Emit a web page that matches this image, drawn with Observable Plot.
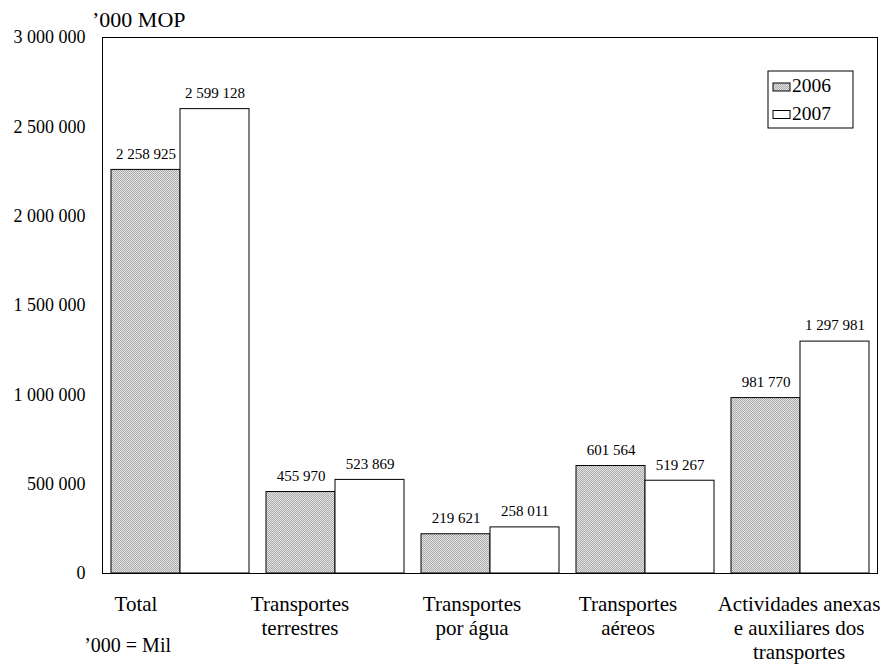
<!DOCTYPE html>
<html>
<head>
<meta charset="utf-8">
<script src="https://cdn.jsdelivr.net/npm/d3@7"></script>
<script src="https://cdn.jsdelivr.net/npm/@observablehq/plot@0.6"></script>
<style>
  body { margin: 0; background: #fff; font-family: "Liberation Serif", "Times New Roman", serif; }
  #wrap { position: relative; width: 885px; height: 664px; }
</style>
</head>
<body>
<div id="wrap"></div>
<script>
const categories = [
  "Total",
  "Transportes\nterrestres",
  "Transportes\npor água",
  "Transportes\naéreos",
  "Actividades anexas\ne auxiliares dos\ntransportes"
];
const years = ["2006", "2007"];
const values2006 = [2258925, 455970, 219621, 601564, 981770];
const values2007 = [2599128, 523869, 258011, 519267, 1297981];
const yTicks = [0, 500000, 1000000, 1500000, 2000000, 2500000, 3000000];
const unitLabel = "’000 MOP";
const footnote = "’000 = Mil";

const data = [];
categories.forEach((c, i) => {
  data.push({cat: c, year: years[0], value: values2006[i]});
  data.push({cat: c, year: years[1], value: values2007[i]});
});

const fmt = d3.formatLocale({thousands: " ", grouping: [3], decimal: ",", currency: ["", ""]}).format(",");
const fills = {"2006": "url(#dots)", "2007": "white"};
const FONT = "'Liberation Serif', 'Times New Roman', serif";
// horizontal shift of each category label (style, as in the original layout)
const labelDx = [-44, -35, -18, -17, -1];

const chart = Plot.plot({
  width: 885,
  height: 664,
  marginLeft: 100,
  marginRight: 7,
  marginTop: 37,
  marginBottom: 91,
  style: {fontFamily: FONT, color: "#000", background: "transparent"},
  fx: {domain: categories, padding: 0, label: null, axis: null},
  x: {domain: years, paddingInner: 0, paddingOuter: 0.114, axis: null},
  y: {domain: [0, 3000000], ticks: yTicks, label: null},
  marks: [
    Plot.frame({stroke: "#000", facet: "super"}),
    Plot.axisY({ticks: yTicks, tickSize: 0, tickPadding: 17, tickFormat: fmt, fontSize: 18, label: null}),
    ...years.map(yr => Plot.barY(data.filter(d => d.year === yr), {
      fx: "cat", x: "year", y: "value", fill: fills[yr], stroke: "#000", strokeWidth: 1, inset: 0
    })),
    Plot.text(data, {fx: "cat", x: "year", y: "value", text: d => fmt(d.value), dy: -16, fontSize: 15, fill: "#000"}),
    ...categories.map((c, i) => Plot.text([c], {
      fx: d => d, text: d => d, frameAnchor: "bottom", lineAnchor: "top",
      dy: 20, dx: labelDx[i], fontSize: 21, lineHeight: 1.143, fill: "#000"
    }))
  ]
});

const svg = d3.select(chart);
const defs = svg.insert("defs", ":first-child");
const pat = defs.append("pattern").attr("id", "dots").attr("patternUnits", "userSpaceOnUse")
  .attr("width", 2).attr("height", 2);
pat.append("rect").attr("width", 2).attr("height", 2).attr("fill", "#e4e4e4");
pat.append("rect").attr("width", 1).attr("height", 1).attr("fill", "#aaaaaa");
pat.append("rect").attr("x", 1).attr("y", 1).attr("width", 1).attr("height", 1).attr("fill", "#aaaaaa");

// unit label and footnote
svg.append("text").attr("x", 92).attr("y", 27).attr("text-anchor", "start")
  .attr("font-size", 22).attr("fill", "#000").text(unitLabel);
svg.append("text").attr("x", 171).attr("y", 652).attr("text-anchor", "end")
  .attr("font-size", 20).attr("fill", "#000").text(footnote);

// legend
const lg = svg.append("g").attr("text-anchor", "start");
lg.append("rect").attr("x", 768).attr("y", 71).attr("width", 85).attr("height", 57)
  .attr("fill", "white").attr("stroke", "#000");
years.forEach((yr, i) => {
  const base = 92 + i * 27.5;
  lg.append("rect").attr("x", 773).attr("y", base - 9).attr("width", 17).attr("height", 8)
    .attr("fill", fills[yr]).attr("stroke", "#000");
  lg.append("text").attr("x", 792).attr("y", base).attr("font-size", 19.5).attr("fill", "#000").text(yr);
});

document.getElementById("wrap").appendChild(chart);
chart.style.position = "absolute";
chart.style.left = "0";
chart.style.top = "0";
</script>
</body>
</html>
